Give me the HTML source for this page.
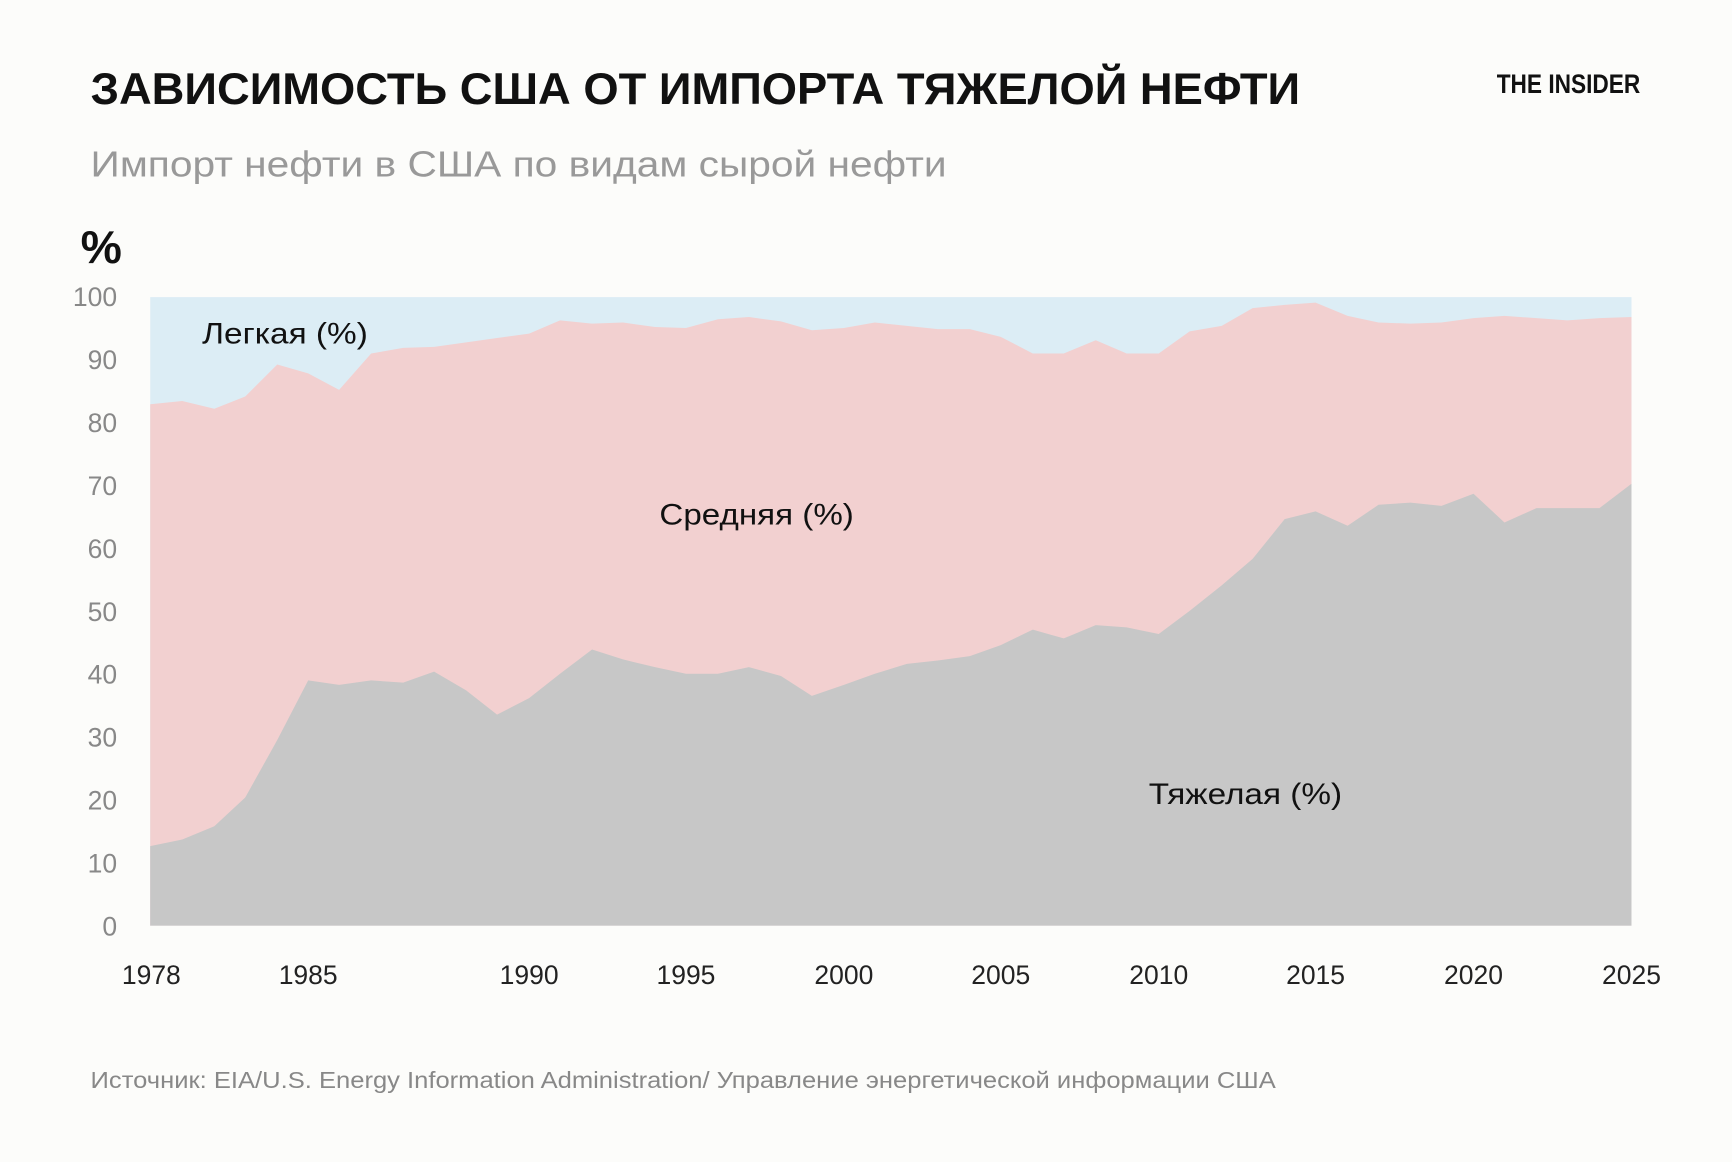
<!DOCTYPE html>
<html><head><meta charset="utf-8"><style>
html,body{margin:0;padding:0;background:#fcfcfa;}
svg{display:block;}
</style></head><body>
<svg width="1732" height="1162" viewBox="0 0 1568 1052" preserveAspectRatio="none" xmlns="http://www.w3.org/2000/svg" font-family="'Liberation Sans','DejaVu Sans',sans-serif">
<rect width="1568" height="1052" fill="#fcfcfa"/>
<text x="82" y="94" font-size="40" font-weight="bold" fill="#111" textLength="1095" lengthAdjust="spacingAndGlyphs">ЗАВИСИМОСТЬ США ОТ ИМПОРТА ТЯЖЕЛОЙ НЕФТИ</text>
<text x="1355" y="84" font-size="24" font-weight="bold" fill="#111" textLength="130" lengthAdjust="spacingAndGlyphs">THE INSIDER</text>
<text x="82" y="160" font-size="33" fill="#999" textLength="775" lengthAdjust="spacingAndGlyphs">Импорт нефти в США по видам сырой нефти</text>
<text x="73" y="238" font-size="42" font-weight="bold" fill="#111">%</text>
<rect x="136" y="269" width="1341" height="569" fill="#dcedf5"/>
<polygon fill="#f2d0d0" points="136,838 136,366 165,363 194,370 222,359 251,330 279,338 307,353 336,320 365,315 393,314 422,310 450,306 479,302 507,290 536,293 564,292 593,296 621,297 650,289 678,287 707,291 735,299 764,297 792,292 821,295 849,298 878,298 906,305 935,320 963,320 992,308 1020,320 1049,320 1077,300 1106,295 1134,279 1163,276 1191,274 1220,286 1248,292 1277,293 1305,292 1334,288 1362,286 1391,288 1419,290 1448,288 1477,287 1477,838"/>
<polygon fill="#c7c7c7" points="136,838 136,766 165,760 194,748 222,722 251,670 279,616 307,620 336,616 365,618 393,608 422,625 450,647 479,632 507,610 536,588 564,597 593,604 621,610 650,610 678,604 707,612 735,630 764,620 792,610 821,601 849,598 878,594 906,584 935,570 963,578 992,566 1020,568 1049,574 1077,553 1106,530 1134,506 1163,470 1191,463 1220,476 1248,457 1277,455 1305,458 1334,447 1362,473 1391,460 1419,460 1448,460 1477,438 1477,838"/>
<g font-size="24" fill="#888" text-anchor="end">
<text x="106" y="277">100</text><text x="106" y="334">90</text><text x="106" y="391">80</text><text x="106" y="448">70</text><text x="106" y="505">60</text><text x="106" y="562">50</text><text x="106" y="619">40</text><text x="106" y="676">30</text><text x="106" y="733">20</text><text x="106" y="790">10</text><text x="106" y="847">0</text>
</g>
<g font-size="24" fill="#222" text-anchor="middle">
<text x="137" y="891">1978</text><text x="279" y="891">1985</text><text x="479" y="891">1990</text><text x="621" y="891">1995</text><text x="764" y="891">2000</text><text x="906" y="891">2005</text><text x="1049" y="891">2010</text><text x="1191" y="891">2015</text><text x="1334" y="891">2020</text><text x="1477" y="891">2025</text>
</g>
<g font-size="27" fill="#111">
<text x="183" y="311" textLength="150" lengthAdjust="spacingAndGlyphs">Легкая (%)</text>
<text x="597" y="475" textLength="176" lengthAdjust="spacingAndGlyphs">Средняя (%)</text>
<text x="1040" y="728" textLength="175" lengthAdjust="spacingAndGlyphs">Тяжелая (%)</text>
</g>
<text x="82" y="985" font-size="21" fill="#888" textLength="1073" lengthAdjust="spacingAndGlyphs">Источник: EIA/U.S. Energy Information Administration/ Управление энергетической информации США</text>
</svg>
</body></html>
